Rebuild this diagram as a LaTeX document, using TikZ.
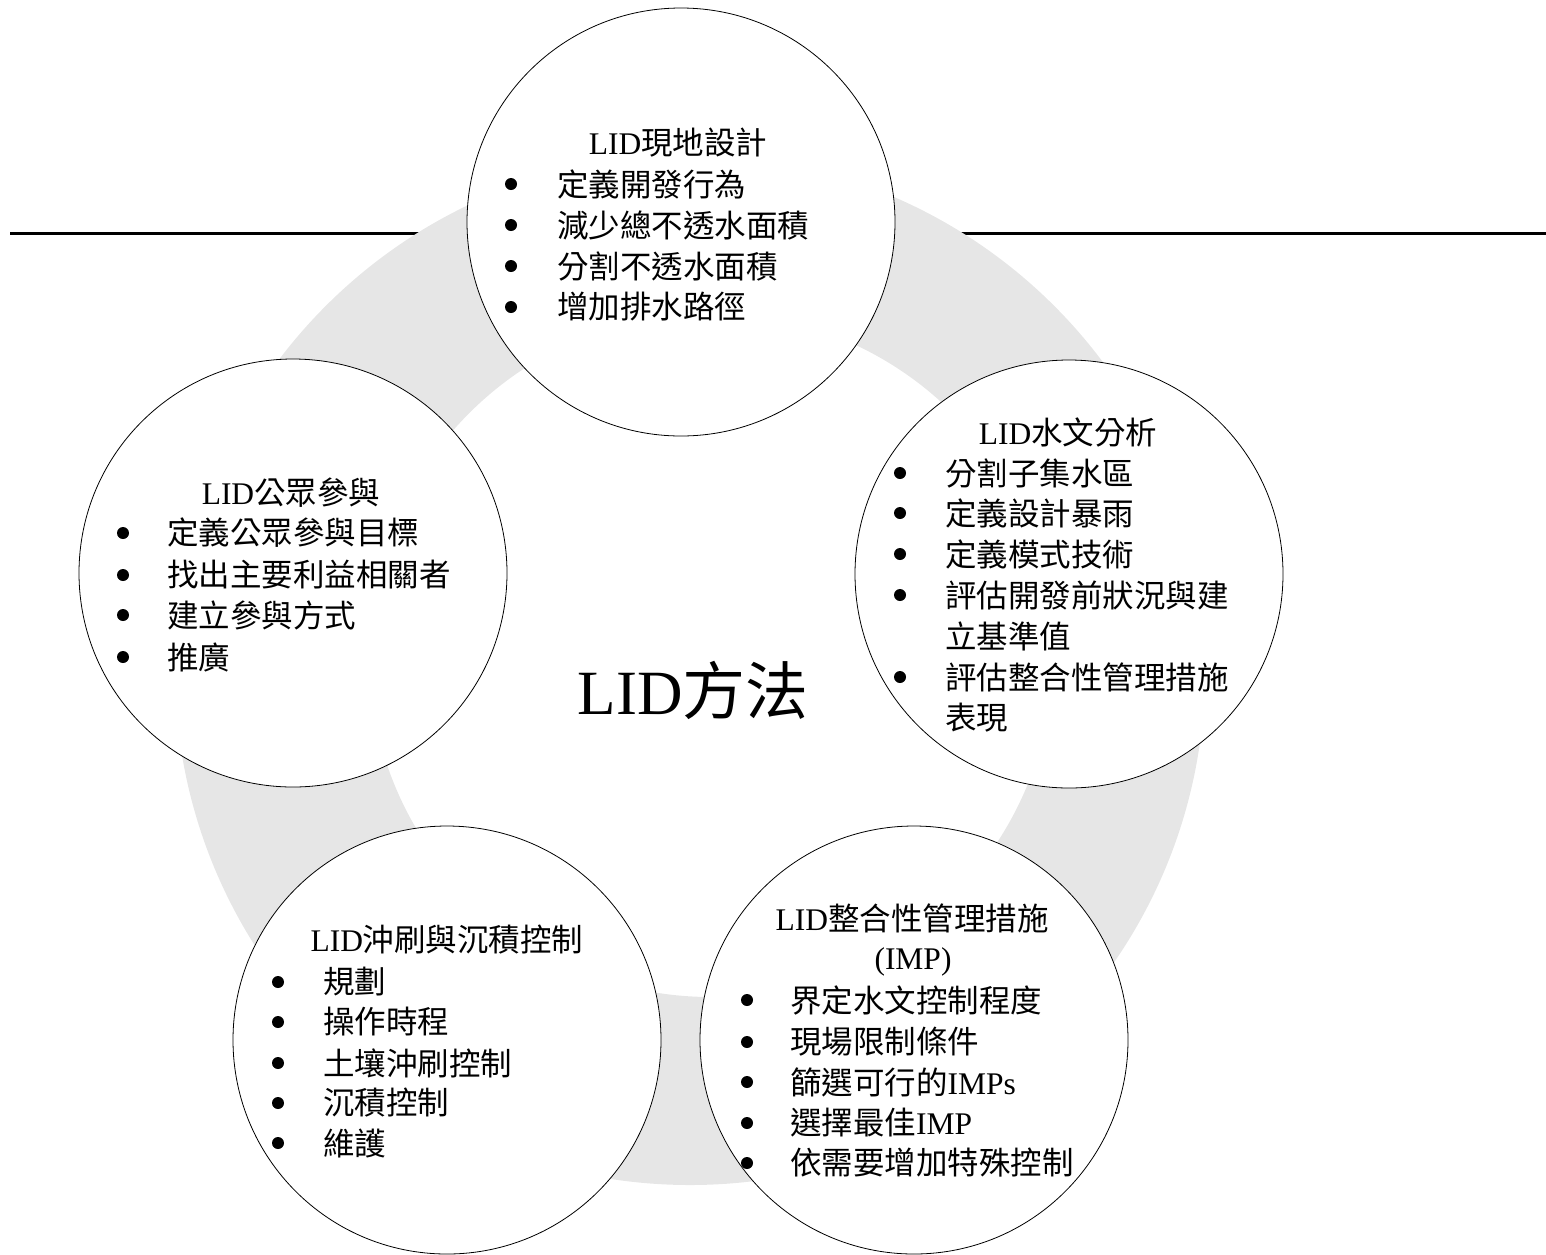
\documentclass[tikz,border=0pt]{standalone}
\usepackage{fontspec}
\setmainfont{Liberation Serif}
\newfontfamily\cjk{Noto Sans CJK TC}
\definecolor{ringgray}{RGB}{230,230,230}
\tikzset{
  bubble/.style={circle, draw=black, line width=0.8pt, fill=white, minimum size=428pt, inner sep=0pt},
  txt/.style={inner sep=0pt, font=\fontsize{31.5}{38}\selectfont},
  ttl/.style={txt, anchor=center},
  item/.style={txt, anchor=west},
  bul/.style={circle, fill=black, inner sep=0pt, minimum size=12pt},
  big/.style={inner sep=0pt, font=\fontsize{63}{70}\selectfont}
}
\begin{document}
\begin{tikzpicture}[x=1pt,y=-1pt]
\useasboundingbox (0,0) rectangle (1546,1254);
% horizontal rule
\coordinate (hl) at (10,233);
\coordinate (hr) at (1546,233);
\draw[line width=3pt] (hl) -- (hr);
% grey ring
\fill[ringgray, even odd rule] (690,670) circle[radius=515pt] (711,655) circle[radius=342pt];
% circles
\node[bubble] (ctop) at (681,222) {};
\node[bubble] (cright) at (1069,574) {};
\node[bubble] (cleft) at (293,573) {};
\node[bubble] (cbl) at (447,1040) {};
\node[bubble] (cbr) at (914,1040) {};
% center
\node[big] (center) at (693,690) {LID{\cjk 方法}};
% top
\node[ttl] (t0) at (678,143) {LID{\cjk 現地設計}};
\node[bul] (t1b) at (511,184) {};
\node[item] (t1) at (557,184) {\cjk 定義開發行為};
\node[bul] (t2b) at (511,225) {};
\node[item] (t2) at (557,225) {\cjk 減少總不透水面積};
\node[bul] (t3b) at (511,266) {};
\node[item] (t3) at (557,266) {\cjk 分割不透水面積};
\node[bul] (t4b) at (511,307) {};
\node[item] (t4) at (557,307) {\cjk 增加排水路徑};
% right
\node[ttl] (r0) at (1068,432) {LID{\cjk 水文分析}};
\node[bul] (r1b) at (900,473) {};
\node[item] (r1) at (945,473) {\cjk 分割子集水區};
\node[bul] (r2b) at (900,513) {};
\node[item] (r2) at (945,513) {\cjk 定義設計暴雨};
\node[bul] (r3b) at (900,554) {};
\node[item] (r3) at (945,554) {\cjk 定義模式技術};
\node[bul] (r4b) at (900,595) {};
\node[item] (r4) at (945,595) {\cjk 評估開發前狀況與建};
\node[item] (r4c) at (945,636) {\cjk 立基準值};
\node[bul] (r5b) at (900,677) {};
\node[item] (r5) at (945,677) {\cjk 評估整合性管理措施};
\node[item] (r5c) at (945,718) {\cjk 表現};
% left
\node[ttl] (l0) at (291,493) {LID{\cjk 公眾參與}};
\node[bul] (l1b) at (123,533) {};
\node[item] (l1) at (167,533) {\cjk 定義公眾參與目標};
\node[bul] (l2b) at (123,575) {};
\node[item] (l2) at (167,575) {\cjk 找出主要利益相關者};
\node[bul] (l3b) at (123,615) {};
\node[item] (l3) at (167,615) {\cjk 建立參與方式};
\node[bul] (l4b) at (123,657) {};
\node[item] (l4) at (167,657) {\cjk 推廣};
% bottom left
\node[ttl] (bl0) at (447,940) {LID{\cjk 沖刷與沉積控制}};
\node[bul] (bl1b) at (278,982) {};
\node[item] (bl1) at (323,982) {\cjk 規劃};
\node[bul] (bl2b) at (278,1022) {};
\node[item] (bl2) at (323,1022) {\cjk 操作時程};
\node[bul] (bl3b) at (278,1063) {};
\node[item] (bl3) at (323,1063) {\cjk 土壤沖刷控制};
\node[bul] (bl4b) at (278,1103) {};
\node[item] (bl4) at (323,1103) {\cjk 沉積控制};
\node[bul] (bl5b) at (278,1143) {};
\node[item] (bl5) at (323,1143) {\cjk 維護};
% bottom right
\node[ttl] (br0) at (912,918) {LID{\cjk 整合性管理措施}};
\node[ttl] (br0b) at (913,962) {(IMP)};
\node[bul] (br1b) at (747,1000) {};
\node[item] (br1) at (790,1000) {\cjk 界定水文控制程度};
\node[bul] (br2b) at (747,1042) {};
\node[item] (br2) at (790,1042) {\cjk 現場限制條件};
\node[bul] (br3b) at (747,1082) {};
\node[item] (br3) at (790,1082) {{\cjk 篩選可行的}IMPs};
\node[bul] (br4b) at (747,1123) {};
\node[item] (br4) at (790,1123) {{\cjk 選擇最佳}IMP};
\node[bul] (br5b) at (747,1163) {};
\node[item] (br5) at (790,1163) {\cjk 依需要增加特殊控制};
\end{tikzpicture}
\end{document}
